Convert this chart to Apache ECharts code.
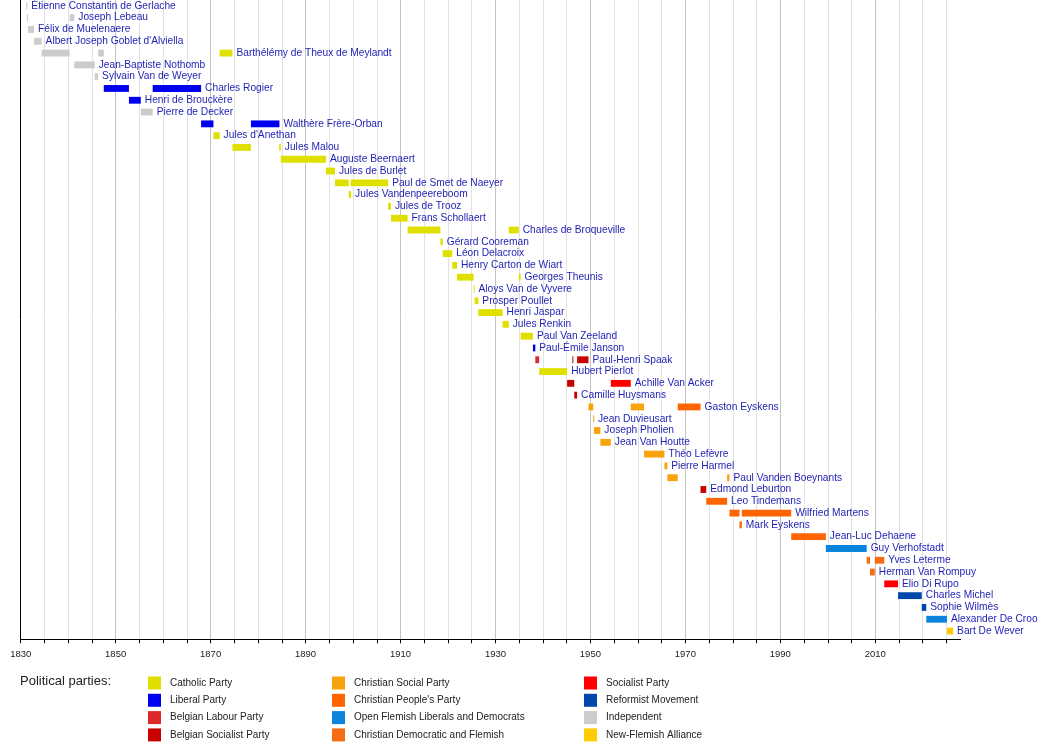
<!DOCTYPE html>
<html>
<head>
<meta charset="utf-8">
<script src="https://cdn.jsdelivr.net/npm/echarts@6/dist/echarts.min.js"></script>
<style>
  html, body { margin: 0; padding: 0; background: #fff; }
  #chart { width: 1050px; height: 749px; }
</style>
</head>
<body>
<div id="chart"></div>
<script>
// prime ministers, top to bottom
var pms = [
  'Étienne Constantin de Gerlache', 'Joseph Lebeau', 'Félix de Muelenaere',
  'Albert Joseph Goblet d\'Alviella', 'Barthélémy de Theux de Meylandt',
  'Jean-Baptiste Nothomb', 'Sylvain Van de Weyer', 'Charles Rogier',
  'Henri de Brouckère', 'Pierre de Decker', 'Walthère Frère-Orban',
  'Jules d\'Anethan', 'Jules Malou', 'Auguste Beernaert', 'Jules de Burlet',
  'Paul de Smet de Naeyer', 'Jules Vandenpeereboom', 'Jules de Trooz',
  'Frans Schollaert', 'Charles de Broqueville', 'Gérard Cooreman',
  'Léon Delacroix', 'Henry Carton de Wiart', 'Georges Theunis',
  'Aloys Van de Vyvere', 'Prosper Poullet', 'Henri Jaspar', 'Jules Renkin',
  'Paul Van Zeeland', 'Paul-Émile Janson', 'Paul-Henri Spaak',
  'Hubert Pierlot', 'Achille Van Acker', 'Camille Huysmans', 'Gaston Eyskens',
  'Jean Duvieusart', 'Joseph Pholien', 'Jean Van Houtte', 'Théo Lefèvre',
  'Pierre Harmel', 'Paul Vanden Boeynants', 'Edmond Leburton',
  'Leo Tindemans', 'Wilfried Martens', 'Mark Eyskens', 'Jean-Luc Dehaene',
  'Guy Verhofstadt', 'Yves Leterme', 'Herman Van Rompuy', 'Elio Di Rupo',
  'Charles Michel', 'Sophie Wilmès', 'Alexander De Croo', 'Bart De Wever'
];

var parties = [
  'Catholic Party', 'Liberal Party', 'Belgian Labour Party', 'Belgian Socialist Party',
  'Christian Social Party', 'Christian People\'s Party', 'Open Flemish Liberals and Democrats',
  'Christian Democratic and Flemish', 'Socialist Party', 'Reformist Movement',
  'Independent', 'New-Flemish Alliance'
];

var partyColors = [
  '#e0e000', '#0000f0', '#dc2828', '#c80000',
  '#f8a30c', '#ff6400', '#0a84dc',
  '#f56c14', '#ff0000', '#0047ab',
  '#cccccc', '#ffcc00'
];

// [row, start year, end year, party index]
var terms = [
  [0, 1831.15, 1831.4, 10],
  [1, 1831.3, 1831.55, 10], [1, 1840.3, 1841.3, 10],
  [2, 1831.55, 1832.8, 10],
  [3, 1832.8, 1834.4, 10],
  [4, 1834.4, 1840.3, 10], [4, 1846.3, 1847.5, 10], [4, 1871.9, 1874.6, 0],
  [5, 1841.3, 1845.6, 10],
  [6, 1845.6, 1846.3, 10],
  [7, 1847.5, 1852.8, 1], [7, 1857.8, 1868.0, 1],
  [8, 1852.8, 1855.3, 1],
  [9, 1855.3, 1857.8, 10],
  [10, 1868.0, 1870.6, 1], [10, 1878.5, 1884.5, 1],
  [11, 1870.6, 1871.9, 0],
  [12, 1874.6, 1878.5, 0], [12, 1884.45, 1884.8, 0],
  [13, 1884.8, 1894.3, 0],
  [14, 1894.3, 1896.2, 0],
  [15, 1896.2, 1899.1, 0], [15, 1899.5, 1907.4, 0],
  [16, 1899.1, 1899.6, 0],
  [17, 1907.4, 1908.0, 0],
  [18, 1908.0, 1911.5, 0],
  [19, 1911.5, 1918.4, 0], [19, 1932.8, 1934.9, 0],
  [20, 1918.4, 1918.9, 0],
  [21, 1918.9, 1920.9, 0],
  [22, 1920.9, 1921.9, 0],
  [23, 1921.9, 1925.4, 0], [23, 1934.9, 1935.3, 0],
  [24, 1925.4, 1925.6, 0],
  [25, 1925.6, 1926.4, 0],
  [26, 1926.4, 1931.5, 0],
  [27, 1931.5, 1932.8, 0],
  [28, 1935.3, 1937.9, 0],
  [29, 1937.9, 1938.4, 1],
  [30, 1938.4, 1939.2, 2], [30, 1946.2, 1946.3, 3], [30, 1947.2, 1949.6, 3],
  [31, 1939.2, 1945.1, 0],
  [32, 1945.1, 1946.6, 3], [32, 1954.3, 1958.5, 8],
  [33, 1946.6, 1947.2, 3],
  [34, 1949.6, 1950.6, 4], [34, 1958.5, 1961.3, 4], [34, 1968.4, 1973.2, 5],
  [35, 1950.6, 1950.75, 4],
  [36, 1950.75, 1952.1, 4],
  [37, 1952.1, 1954.3, 4],
  [38, 1961.3, 1965.6, 4],
  [39, 1965.6, 1966.2, 4],
  [40, 1966.2, 1968.4, 4], [40, 1978.8, 1979.3, 4],
  [41, 1973.2, 1974.4, 3],
  [42, 1974.4, 1978.8, 5],
  [43, 1979.3, 1981.4, 5], [43, 1981.9, 1992.3, 5],
  [44, 1981.4, 1981.9, 5],
  [45, 1992.3, 1999.6, 5],
  [46, 1999.6, 2008.2, 6],
  [47, 2008.2, 2008.9, 7], [47, 2009.9, 2011.9, 7],
  [48, 2008.9, 2009.9, 7],
  [49, 2011.9, 2014.8, 8],
  [50, 2014.8, 2019.8, 9],
  [51, 2019.8, 2020.75, 9],
  [52, 2020.75, 2025.1, 6],
  [53, 2025.1, 2026.4, 11]
];

var yearTicks = [1830, 1850, 1870, 1890, 1910, 1930, 1950, 1970, 1990, 2010];

var textFont = 'Liberation Sans, Arial, sans-serif';

// ticks every 5 years, 1830..2025
var fiveYears = [];
for (var y = 1830; y <= 2025; y += 5) fiveYears.push(y);

// split line colours by tick index: darker every 20 years, none on the 2028 edge
var splitColors = fiveYears.map(function(v, i) {
  return i % 4 === 0 ? '#c4c4c4' : '#e2e2e2';
});
splitColors.push('rgba(0,0,0,0)');

// end of the last term of each row, where its name goes
var labelData = pms.map(function(name, row) {
  var end = 0;
  terms.forEach(function(t) {
    if (t[0] === row && t[2] > end) end = t[2];
  });
  return [end, row];
});

function renderBar(params, api) {
  var row = api.value(2);
  var s = api.coord([api.value(0), row]);
  var e = api.coord([api.value(1), row]);
  var h = api.size([0, 1])[1] * 0.58;
  return {
    type: 'rect',
    shape: { x: s[0], y: s[1] - h / 2, width: Math.max(e[0] - s[0], 1), height: h },
    style: { fill: api.visual('color') }
  };
}

function renderLabel(params, api) {
  var p = api.coord([api.value(0), api.value(1)]);
  return {
    type: 'text',
    x: p[0] + 4,
    y: p[1],
    style: {
      text: pms[params.dataIndex],
      fill: '#1e1eb4',
      font: '10.2px ' + textFont,
      align: 'left',
      verticalAlign: 'middle'
    }
  };
}

var series = parties.map(function(party, pi) {
  return {
    name: party,
    type: 'custom',
    renderItem: renderBar,
    itemStyle: { color: partyColors[pi] },
    encode: { x: [0, 1], y: 2 },
    silent: true,
    data: terms.filter(function(t) { return t[3] === pi; }).map(function(t) {
      return [t[1], t[2], t[0]];
    })
  };
});

series.push({
  name: 'labels',
  type: 'custom',
  renderItem: renderLabel,
  encode: { x: 0, y: 1 },
  silent: true,
  data: labelData
});

function makeLegend(names, left) {
  return {
    data: names,
    orient: 'vertical',
    left: left,
    top: 676.5,
    icon: 'rect',
    itemWidth: 13,
    itemHeight: 13,
    itemGap: 4.3,
    selectedMode: false,
    padding: 0,
    textStyle: { fontSize: 10, color: '#222', fontFamily: textFont, padding: [0, 0, 0, 4] }
  };
}

var chart = echarts.init(document.getElementById('chart'), null, { renderer: 'canvas' });

chart.setOption({
  animation: false,
  backgroundColor: '#fff',
  textStyle: { fontFamily: textFont },
  title: {
    text: 'Political parties:',
    left: 20,
    top: 675,
    padding: 0,
    textStyle: { fontSize: 13, fontWeight: 'normal', color: '#222', fontFamily: textFont }
  },
  legend: [
    makeLegend(parties.slice(0, 4), 148),
    makeLegend(parties.slice(4, 8), 332),
    makeLegend(parties.slice(8, 12), 584)
  ],
  grid: { left: 20.7, right: 89.3, top: 0, bottom: 109.7 },
  xAxis: {
    type: 'value',
    position: 'bottom',
    min: 1830,
    max: 2028,
    interval: 5,
    axisLine: { show: true, onZero: false, lineStyle: { color: '#000', width: 1 } },
    axisTick: { show: true, length: 4, customValues: fiveYears, lineStyle: { color: '#000' } },
    axisLabel: {
      margin: 10,
      fontSize: 9.5,
      color: '#222',
      fontFamily: textFont,
      customValues: yearTicks,
      formatter: function(v) { return String(v); }
    },
    splitLine: {
      show: true,
      lineStyle: { color: splitColors, width: 1 }
    }
  },
  yAxis: {
    type: 'value',
    inverse: true,
    min: -0.5,
    max: 53.7,
    axisLine: { show: true, onZero: false, lineStyle: { color: '#000', width: 1 } },
    axisTick: { show: false },
    axisLabel: { show: false },
    splitLine: { show: false }
  },
  series: series
});
</script>
</body>
</html>
